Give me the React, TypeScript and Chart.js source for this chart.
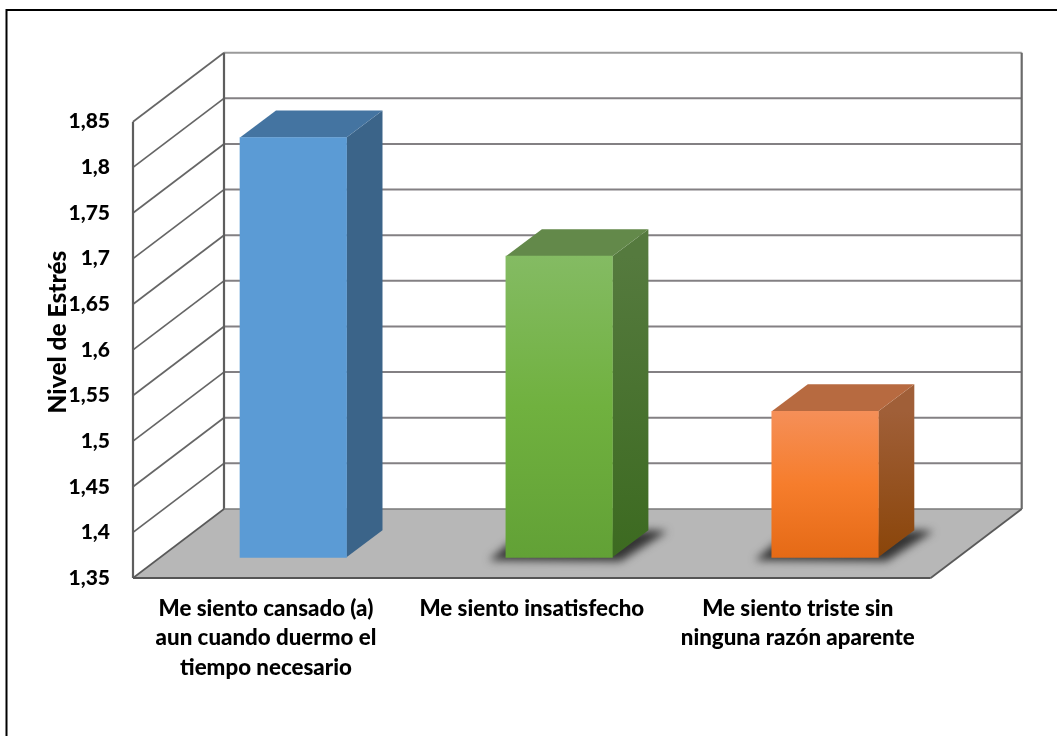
import React, { useEffect, useRef } from "react";
import { Chart, registerables } from "chart.js";

Chart.register(...registerables);

const categories = [
  ["Me siento cansado (a)", "aun cuando duermo el", "tiempo necesario"],
  ["Me siento insatisfecho"],
  ["Me siento triste sin", "ninguna razón aparente"],
];
const values = [1.81, 1.68, 1.51];
const axisTitle = "Nivel de Estrés";
const yMin = 1.35;
const yMax = 1.85;
const yStep = 0.05;

const frontTop = ["#5B9BD5", "#84BB63", "#F58F58"];
const frontMid = ["#5B9BD5", "#70B13F", "#F67D2C"];
const frontBottom = ["#5B9BD5", "#62A136", "#E56A16"];
const topFace = ["#4474A1", "#63894A", "#B76A40"];
const sideTop = ["#3B6489", "#557A3E", "#A05F38"];
const sideBottom = ["#3B6489", "#3C6A20", "#8A4509"];
const hasShadow = [false, true, true];

const WALL_DX = 91;
const WALL_DY = -69;
const BAR_DX = 27.3;
const BAR_DY = -20.7;
const DEPTH_DX = 36;
const DEPTH_DY = -27;
const FONT = "Lato, Carlito, sans-serif";

function poly(ctx: CanvasRenderingContext2D, pts: number[][]) {
  ctx.beginPath();
  pts.forEach((p, i) => (i ? ctx.lineTo(p[0], p[1]) : ctx.moveTo(p[0], p[1])));
  ctx.closePath();
}
function seg(ctx: CanvasRenderingContext2D, pts: number[][], color: string, width: number) {
  ctx.beginPath();
  pts.forEach((p, i) => (i ? ctx.lineTo(p[0], p[1]) : ctx.moveTo(p[0], p[1])));
  ctx.strokeStyle = color;
  ctx.lineWidth = width;
  ctx.stroke();
}

const scene3d = {
  id: "scene3d",
  beforeDraw(chart: any) {
    const { ctx, width, height } = chart;
    ctx.save();
    ctx.fillStyle = "#ffffff";
    ctx.fillRect(0, 0, width, height);
    seg(ctx, [[6.5, height], [6.5, 10], [width, 10]], "#000000", 2);
    ctx.restore();
  },
  beforeDatasetsDraw(chart: any) {
    const { ctx, chartArea: a, scales } = chart;
    const y = scales.y;
    ctx.save();
    const floor = [
      [a.left, a.bottom],
      [a.left + WALL_DX, a.bottom + WALL_DY],
      [a.right + WALL_DX, a.bottom + WALL_DY],
      [a.right, a.bottom],
    ];
    poly(ctx, floor);
    ctx.fillStyle = "#B7B7B7";
    ctx.fill();

    // grid lines, one per axis tick, across side wall and back wall
    y.ticks.forEach((t: any) => {
      const py = y.getPixelForValue(t.value);
      if (Math.abs(t.value - yMin) < 1e-6) return;
      const isTop = Math.abs(t.value - yMax) < 1e-6;
      seg(ctx, [[a.left, py], [a.left + WALL_DX, py + WALL_DY]], "#666666", 1.7);
      seg(ctx, [[a.left + WALL_DX, py + WALL_DY], [a.right + WALL_DX, py + WALL_DY]], isTop ? "#9A9A9A" : "#838083", 2);
    });
    // walls' edges
    seg(ctx, [[a.left + WALL_DX, a.top + WALL_DY], [a.left + WALL_DX, a.bottom + WALL_DY]], "#5E5E5E", 2.2);
    seg(ctx, [[a.right + WALL_DX, a.top + WALL_DY], [a.right + WALL_DX, a.bottom + WALL_DY]], "#6A6A6A", 2.2);
    seg(ctx, [[a.left + WALL_DX, a.bottom + WALL_DY], [a.right + WALL_DX, a.bottom + WALL_DY]], "#7A7A7A", 1.5);
    seg(ctx, [[a.left, a.bottom], [a.left + WALL_DX, a.bottom + WALL_DY]], "#5A5A5A", 1.6);
    seg(ctx, [[a.right, a.bottom], [a.right + WALL_DX, a.bottom + WALL_DY]], "#5A5A5A", 1.8);
    seg(ctx, [[a.left, a.top], [a.left, a.bottom]], "#5E5E5E", 2.2);
    seg(ctx, [[a.left, a.bottom], [a.right, a.bottom]], "#555555", 2.2);

    const meta = chart.getDatasetMeta(0);
    meta.data.forEach((bar: any, i: number) => {
      const x0 = bar.x - bar.width / 2 + BAR_DX;
      const x1 = bar.x + bar.width / 2 + BAR_DX;
      const t = bar.y + BAR_DY;
      const b = bar.base + BAR_DY;
      if (hasShadow[i]) {
        ctx.save();
        poly(ctx, floor);
        ctx.clip();
        ctx.filter = "blur(4px)";
        poly(ctx, [
          [x0 - 17, b + 3],
          [x0 + 6, b - 16],
          [x1 + DEPTH_DX + 2, b + DEPTH_DY],
          [x1 + DEPTH_DX + 19, b + DEPTH_DY + 1],
          [x1 + 8, b + 4],
        ]);
        ctx.fillStyle = "#333333";
        ctx.fill();
        ctx.restore();
      }
      const sg = ctx.createLinearGradient(0, t, 0, b);
      sg.addColorStop(0, sideTop[i]);
      sg.addColorStop(1, sideBottom[i]);
      poly(ctx, [
        [x1, t],
        [x1 + DEPTH_DX, t + DEPTH_DY],
        [x1 + DEPTH_DX, b + DEPTH_DY],
        [x1, b],
      ]);
      ctx.fillStyle = sg;
      ctx.fill();
      poly(ctx, [
        [x0, t],
        [x0 + DEPTH_DX, t + DEPTH_DY],
        [x1 + DEPTH_DX, t + DEPTH_DY],
        [x1, t],
      ]);
      ctx.fillStyle = topFace[i];
      ctx.fill();
    });
    ctx.restore();
  },
  beforeDatasetDraw(chart: any) {
    chart.ctx.save();
    chart.ctx.translate(BAR_DX, BAR_DY);
  },
  afterDatasetDraw(chart: any) {
    chart.ctx.restore();
  },
  afterDraw(chart: any) {
    const { ctx } = chart;
    ctx.save();
    ctx.translate(58, 332);
    ctx.rotate(-Math.PI / 2);
    ctx.font = `900 24.5px ${FONT}`;
    ctx.fillStyle = "#000000";
    ctx.textAlign = "center";
    ctx.textBaseline = "middle";
    ctx.fillText(axisTitle, 0, 0);
    ctx.restore();
  },
};

export default function App() {
  const ref = useRef<HTMLCanvasElement>(null);
  useEffect(() => {
    const chart = new Chart(ref.current as HTMLCanvasElement, {
      type: "bar",
      plugins: [scene3d],
      data: {
        labels: categories as any,
        datasets: [
          {
            data: values,
            base: yMin,
            barThickness: 106.5,
            clip: false as any,
            backgroundColor: (c: any) => {
              const s = c.chart.scales?.y;
              const i = c.dataIndex;
              if (!s || i == null) return frontMid[i ?? 0];
              const top = s.getPixelForValue(values[i]);
              const bottom = s.getPixelForValue(yMin);
              if (!Number.isFinite(top) || !Number.isFinite(bottom)) return frontMid[i];
              const g = c.chart.ctx.createLinearGradient(0, top, 0, bottom);
              g.addColorStop(0, frontTop[i]);
              g.addColorStop(0.5, frontMid[i]);
              g.addColorStop(1, frontBottom[i]);
              return g;
            },
          },
        ],
      },
      options: {
        responsive: false,
        animation: false,
        layout: { padding: { left: 0, top: 121.7, right: 126.3, bottom: 0 } },
        plugins: { legend: { display: false }, tooltip: { enabled: false } },
        scales: {
          x: {
            grid: { display: false, drawTicks: false },
            border: { display: false },
            afterFit: (s: any) => {
              s.height = 736 - 578;
            },
            ticks: {
              autoSkip: false,
              maxRotation: 0,
              minRotation: 0,
              padding: 16,
              color: "#000000",
              font: { family: FONT, weight: "900", size: 22.3, lineHeight: 1.32 },
            },
          },
          y: {
            min: yMin,
            max: yMax,
            grid: { display: false, drawTicks: false },
            border: { display: false },
            afterFit: (s: any) => {
              s.width = 133;
            },
            ticks: {
              stepSize: yStep,
              padding: 23,
              color: "#000000",
              font: { family: FONT, weight: "900", size: 21 },
              callback: (v: any) => String(Number(Number(v).toFixed(2))).replace(".", ","),
            },
          },
        },
      },
    } as any);
    return () => chart.destroy();
  }, []);
  return (
    <canvas
      ref={ref}
      width={1057}
      height={736}
      style={{ position: "fixed", left: 0, top: 0, display: "block" }}
    />
  );
}
